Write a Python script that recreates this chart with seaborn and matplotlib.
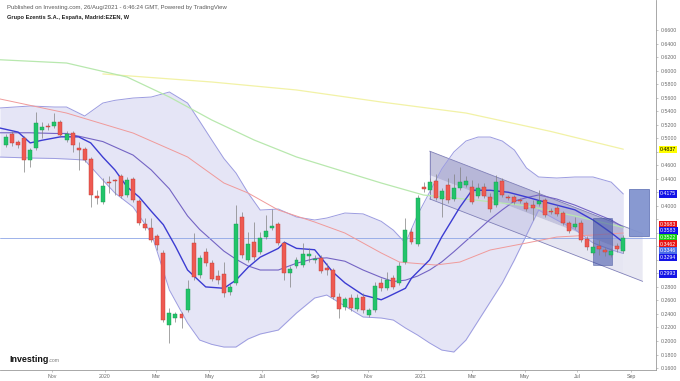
import numpy as np
import pandas as pd
import matplotlib
matplotlib.use("Agg")
import matplotlib.pyplot as plt
import matplotlib.dates as mdates
import matplotlib.transforms as mtransforms
from matplotlib.patches import Polygon, Rectangle
import seaborn as sns

# ---------------- data (weekly candles, EZEN) ----------------
start_week = "2019-09-09"
opens = [.4899, .5062, .4943, .5002, .4677, .4855, .5121, .5180, .5180, .5239,
         .4973, .5076, .4855, .4840, .4692, .4144, .4056, .4351, .4381, .4440,
         .4159, .4396, .4071, .3730, .3671, .3553, .3302, .2236, .2340, .2399,
         .2458, .3449, .2976, .3316, .3154, .2961, .2991, .2724, .2858, .3834,
         .3198, .3464, .3316, .3538, .3671, .3730, .3449, .3006, .3109, .3124,
         .3257, .3198, .3228, .3080, .3050, .2650, .2502, .2636, .2473, .2651,
         .2384, .2458, .2858, .2784, .2932, .2858, .3168, .3612, .3435, .4278,
         .4233, .4366, .4100, .4307, .4100, .4263, .4307, .4278, .4144, .4278,
         .4130, .4011, .4366, .4130, .4130, .4085, .4041, .4011, .4026, .4085,
         .3923, .3967, .3893, .3745, .3686, .3745, .3509, .3302, .3405, .3346,
         .3272, .3405, .3331]
highs = [.5062, .5106, .4973, .5032, .4855, .5387, .5239, .5224, .5372, .5269,
         .5106, .5106, .4943, .4870, .4722, .4233, .4411, .4440, .4396, .4470,
         .4425, .4425, .4100, .3819, .3819, .3583, .3346, .2488, .2429, .2429,
         .2902, .3597, .3272, .3375, .3198, .3050, .3168, .2843, .4011, .3908,
         .3612, .3760, .3612, .3864, .3952, .3760, .3479, .3109, .3242, .3449,
         .3375, .3272, .3272, .3154, .3080, .2710, .2651, .2695, .2695, .2710,
         .2488, .2872, .2932, .3020, .2976, .3168, .3819, .3671, .4159, .4352,
         .4411, .4470, .4263, .4411, .4470, .4574, .4440, .4381, .4337, .4337,
         .4189, .4455, .4411, .4159, .4159, .4115, .4071, .4085, .4233, .4115,
         .3967, .4011, .3923, .3775, .3834, .3790, .3553, .3494, .3494, .3390,
         .3375, .3449, .3568]
lows = [.4869, .4884, .4855, .4500, .4574, .4825, .5002, .5121, .5150, .5017,
        .4943, .4796, .4529, .4648, .3982, .4026, .4026, .4189, .4159, .4115,
        .4129, .4056, .3716, .3642, .3464, .3346, .2281, .1970, .2281, .2192,
        .2429, .2902, .2931, .3109, .2887, .2843, .2651, .2680, .2828, .3228,
        .3168, .3198, .3287, .3509, .3642, .3420, .2902, .2798, .3080, .3094,
        .3168, .3154, .3006, .2976, .2621, .2340, .2458, .2444, .2444, .2414,
        .2355, .2429, .2739, .2754, .2769, .2828, .3139, .3434, .3405, .4204,
        .4189, .4085, .3834, .4041, .4071, .4233, .4278, .4026, .4115, .4115,
        .3908, .3982, .4129, .4085, .4026, .4041, .3923, .3790, .3997, .3834,
        .3878, .3849, .3716, .3597, .3656, .3464, .3346, .3272, .3272, .3257,
        .3242, .3316, .3301]
closes = [.5017, .4929, .4899, .4677, .4825, .5224, .5165, .5165, .5239, .5047,
          .5062, .4899, .4825, .4677, .4159, .4115, .4292, .4337, .4366, .4144,
          .4381, .4085, .3745, .3671, .3494, .3420, .2310, .2414, .2399, .2340,
          .2769, .2946, .3228, .3154, .2917, .2902, .2710, .2798, .3730, .3272,
          .3434, .3242, .3523, .3627, .3701, .3449, .3006, .3065, .3198, .3287,
          .3287, .3198, .3035, .3050, .2650, .2473, .2621, .2488, .2636, .2458,
          .2458, .2813, .2784, .2902, .2798, .3109, .3642, .3464, .4115, .4248,
          .4351, .4115, .4218, .4085, .4263, .4351, .4366, .4056, .4263, .4144,
          .3952, .4351, .4159, .4115, .4056, .4071, .3952, .3967, .4071, .3863,
          .3908, .3878, .3745, .3627, .3730, .3494, .3390, .3390, .3360, .3316,
          .3331, .3360, .3522]

# Bollinger bands (20) at these week numbers
bb_idx = [-1, 4, 8, 10, 13, 16, 18, 21, 24, 27, 30, 32, 34, 36, 38, 40, 42, 45,
          48, 51, 53, 56, 59, 62, 64, 66, 68, 70, 72, 74, 76, 78, 80, 82, 84, 86,
          88, 91, 94, 97, 100, 102]
bb_upper = [.5447, .5476, .5461, .5461, .5328, .5520, .5560, .5594, .5609, .5683,
            .5520, .5250, .4973, .4700, .4485, .4190, .3937, .3952, .3834, .3790,
            .3819, .3893, .3880, .3770, .3640, .3449, .3863, .4204, .4544, .4796,
            .4958, .5017, .5017, .4958, .4825, .4559, .4426, .4411, .4426, .4426,
            .4350, .4175]
bb_basis = [.508, .508, .507, .507, .501, .495, .487, .475, .453, .425, .385, .365,
            .349, .333, .321, .311, .305, .305, .315, .322, .323, .318, .305, .294,
            .288, .290, .296, .305, .317, .332, .348, .364, .380, .394, .407, .412,
            .416, .410, .401, .390, .379, .3683]
bb_lower = [.4721, .4707, .4700, .4692, .4677, .4381, .4189, .3982, .3597, .2754,
            .2266, .2014, .1950, .1911, .1911, .2030, .2103, .2162, .2414, .2636,
            .2680, .2517, .2355, .2340, .2310, .2192, .2088, .1970, .1866, .1837,
            .2014, .2295, .2576, .2857, .3198, .3568, .3937, .3790, .3650, .3450,
            .3350, .3294]

# fast moving average (blue)
ma10_idx = [-1, 2, 4, 6, 9, 12, 14, 16, 18, 20, 22, 24, 26, 28, 30, 33, 36, 38, 40,
            42, 45, 46, 48, 51, 52, 54, 56, 59, 62, 63, 66, 67, 70, 72, 75, 77, 80,
            83, 86, 88, 91, 94, 97, 100, 102]
ma10_val = [.515, .509, .493, .497, .502, .502, .493, .472, .453, .428, .413, .392,
            .372, .340, .305, .280, .278, .290, .309, .324, .337, .346, .337, .335,
            .324, .302, .286, .268, .261, .265, .278, .293, .320, .354, .398, .423,
            .423, .420, .413, .408, .401, .394, .379, .360, .346]

# 50 (red), 100 (green), 200 (yellow) week averages
ma50_idx = [-1, 10, 21, 30, 36, 40, 45, 51, 56, 62, 65, 71, 75, 80, 86, 91, 97, 102]
ma50_val = [.5580, .5372, .5076, .4722, .4337, .4189, .3937, .3760, .3597, .3302,
            .3168, .3124, .3168, .3346, .3449, .3538, .3568, .3597]
ma100_idx = [-1, 10, 20, 27, 34, 41, 48, 55, 62, 69, 78, 86, 94, 102]
ma100_val = [.6160, .6112, .5905, .5609, .5269, .4973, .4722, .4529, .4337, .4159,
             .408, .400, .385, .368]
ma200_idx = [16, 34, 48, 62, 76, 90, 102]
ma200_val = [.5950, .5831, .5713, .5535, .5372, .5100, .4837]

# regression trend channel drawn on the chart
reg_idx = [70, 102]
reg_upper = [.4808, .3699]
reg_lower = [.4102, .2993]
reg_extend_to = 105.2

# drawn rectangles: (week from, week to, price low, price high)
boxes = [(97.0, 100.2, .3124, .3819), (103.0, 106.3, .3553, .4248)]

# price scale labels on the right
tag_values = [.4837, .4175, .3683, .3583, .3522, .3462, .3346, .3294, .2993]
tag_colors = ["#ffff00", "#1414e6", "#e81414", "#1414e6", "#14d214", "#e81414",
              "#4a6ee8", "#1414e6", "#1414e6"]
tag_text = ["#000000", "white", "white", "white", "white", "white", "white",
            "white", "white"]

month_ticks = ["2019-11-01", "2020-01-01", "2020-03-01", "2020-05-01", "2020-07-01",
               "2020-09-01", "2020-11-01", "2021-01-01", "2021-03-01", "2021-05-01",
               "2021-07-01", "2021-09-01"]
month_labels = ["Nov", "2020", "Mar", "May", "Jul", "Sep", "Nov", "2021", "Mar",
                "May", "Jul", "Sep"]

# ---------------- figure ----------------
sns.set_theme(style="white")
plt.rcParams["font.family"] = ["Liberation Sans", "DejaVu Sans"]

W, H = 680, 381
fig = plt.figure(figsize=(W / 100, H / 100), dpi=100)
fig.patch.set_facecolor("white")
ax = fig.add_axes([0, 11 / H, 656 / W, 370 / H])
ax.set_facecolor("white")

d0 = mdates.date2num(pd.Timestamp(start_week))


def xw(i):
    return d0 + 7.0 * np.asarray(i, dtype=float)


# Bollinger fill and lines
ax.fill_between(xw(bb_idx), bb_lower, bb_upper, color="#9a9ade", alpha=0.25,
                lw=0, zorder=1)
for vals, col, lw in [(bb_upper, "#9c9ce0", 0.7), (bb_lower, "#9c9ce0", 0.7),
                      (bb_basis, "#7464c4", 0.8)]:
    sns.lineplot(x=xw(bb_idx), y=vals, ax=ax, color=col, lw=lw, zorder=2,
                 estimator=None, sort=False)

# regression channel
mid = [(u + l) / 2 for u, l in zip(reg_upper, reg_lower)]
xa, xb = xw(reg_idx)
upper_half = Polygon([(xa, reg_upper[0]), (xb, reg_upper[1]), (xb, mid[1]),
                      (xa, mid[0])], closed=True, fc="#7f7fb5", alpha=0.45,
                     ec="none", zorder=1.5)
lower_half = Polygon([(xa, mid[0]), (xb, mid[1]), (xb, reg_lower[1]),
                      (xa, reg_lower[0])], closed=True, fc="#9c9ccc", alpha=0.25,
                     ec="none", zorder=1.5)
ax.add_patch(upper_half)
ax.add_patch(lower_half)
slope_u = (reg_upper[1] - reg_upper[0]) / (reg_idx[1] - reg_idx[0])
slope_l = (reg_lower[1] - reg_lower[0]) / (reg_idx[1] - reg_idx[0])
ext = reg_extend_to - reg_idx[1]
xc = xw(reg_extend_to)
ue, le = reg_upper[1] + slope_u * ext, reg_lower[1] + slope_l * ext
ax.add_patch(Polygon([(xb, reg_upper[1]), (xc, ue), (xc, le), (xb, reg_lower[1])],
                     closed=True, fc="#9c9ccc", alpha=0.22, ec="none", zorder=1.5))
ax.plot([xa, xc], [reg_upper[0], ue], color="#8080b8", lw=0.6, zorder=1.6)
ax.plot([xa, xc], [reg_lower[0], le], color="#8080b8", lw=0.6, zorder=1.6)
ax.plot([xa, xa], [reg_lower[0], reg_upper[0]], color="#8080b8", lw=0.6, zorder=1.6)

# moving averages
for idx, vals, col, lw in [(ma200_idx, ma200_val, "#f2f2a6", 0.9),
                           (ma100_idx, ma100_val, "#b8e8ae", 0.9),
                           (ma50_idx, ma50_val, "#f09a9a", 0.7),
                           (ma10_idx, ma10_val, "#3c3cd2", 1.0)]:
    sns.lineplot(x=xw(idx), y=vals, ax=ax, color=col, lw=lw, zorder=2.2,
                 estimator=None, sort=False)

# last price line
ax.axhline(closes[-1], color="#8ea6e6", lw=0.6, zorder=2.1)

# drawn rectangles
ax.add_patch(Rectangle((xw(boxes[0][0]), boxes[0][2]),
                       xw(boxes[0][1]) - xw(boxes[0][0]), boxes[0][3] - boxes[0][2],
                       fc="#3d4fa6", alpha=0.55, ec="#2f3f90", lw=0.5, zorder=2.5))
ax.add_patch(Rectangle((xw(boxes[1][0]), boxes[1][2]),
                       xw(boxes[1][1]) - xw(boxes[1][0]), boxes[1][3] - boxes[1][2],
                       fc="#8294cf", alpha=0.95, ec="#6476b8", lw=0.6, zorder=2.5))

# candles
o = np.array(opens)
c = np.array(closes)
hi = np.array(highs)
lo = np.array(lows)
xs = xw(np.arange(len(o)))
up = c >= o
ax.vlines(xs, lo, hi, color="#808080", lw=0.5, zorder=3)
face = np.where(up, "#22c46a", "#ee5a52")
edge = np.where(up, "#17994f", "#c03a34")
ax.bar(xs, np.maximum(np.abs(c - o), 0.0016), bottom=np.minimum(o, c), width=4.6,
       color=face, edgecolor=edge, lw=0.3, zorder=4)

# axes limits / spines
ax.set_xlim(xw(-0.99), xw(107.4))
ax.set_ylim(0.1571, 0.7044)
for s in ["left", "top"]:
    ax.spines[s].set_visible(False)
for s in ["right", "bottom"]:
    ax.spines[s].set_color("#9a9a9a")
    ax.spines[s].set_linewidth(0.6)

# price tags with simple stacking
order = np.argsort(tag_values)[::-1]
pos = np.array(tag_values, dtype=float)[order]
gap = 0.0097
for _ in range(200):
    moved = False
    for k in range(len(pos) - 1):
        d = pos[k] - pos[k + 1]
        if d < gap:
            sh = (gap - d) / 2
            pos[k] += sh
            pos[k + 1] -= sh
            moved = True
    if not moved:
        break
blend = mtransforms.blended_transform_factory(ax.transAxes, ax.transData)
for k, j in enumerate(order):
    ax.text(1.006, pos[k], f"{tag_values[j]:.4f}", transform=blend, fontsize=3.8,
            color=tag_text[j], va="center", ha="left", clip_on=False, zorder=10,
            bbox=dict(boxstyle="square,pad=0.22", fc=tag_colors[j], ec="none"))

# y ticks on the right
ax.yaxis.tick_right()
yt = np.round(np.arange(0.16, 0.6601, 0.02), 2)
ylabels = ["" if np.any(np.abs(pos - v) < 0.0085) else f"{v:.4f}" for v in yt]
ax.set_yticks(yt)
ax.set_yticklabels(ylabels)
ax.tick_params(axis="y", which="both", right=True, length=1.6, width=0.4,
               color="#9a9a9a", labelsize=3.8, labelcolor="#6a6a6a", pad=1.5)

# x ticks at month starts
ax.set_xticks([mdates.date2num(pd.Timestamp(t)) for t in month_ticks])
ax.set_xticklabels(month_labels)
ax.tick_params(axis="x", bottom=True, length=1.6, width=0.4, color="#9a9a9a",
               labelsize=3.8, labelcolor="#6a6a6a", pad=1.2)
ax.set_xlabel("")
ax.set_ylabel("")
ax.grid(False)

# header and logo
fig.text(7 / W, 1 - 7 / H,
         "Published on Investing.com, 26/Aug/2021 - 6:46:24 GMT, Powered by TradingView",
         fontsize=4.3, color="#5a5a5a", va="center", ha="left")
fig.text(7 / W, 1 - 17 / H, "Grupo Ezentis S.A., España, Madrid:EZEN, W",
         fontsize=4.1, color="#222222", fontweight="bold", va="center", ha="left")
fig.text(9 / W, 1 - 360 / H, "Investing", fontsize=6.4, fontweight="bold",
         color="#111111", va="center", ha="left")
fig.text(49 / W, 1 - 361 / H, ".com", fontsize=3.6, color="#7a7a7a",
         va="center", ha="left")

fig.savefig("out.png", dpi=100, facecolor="white")
